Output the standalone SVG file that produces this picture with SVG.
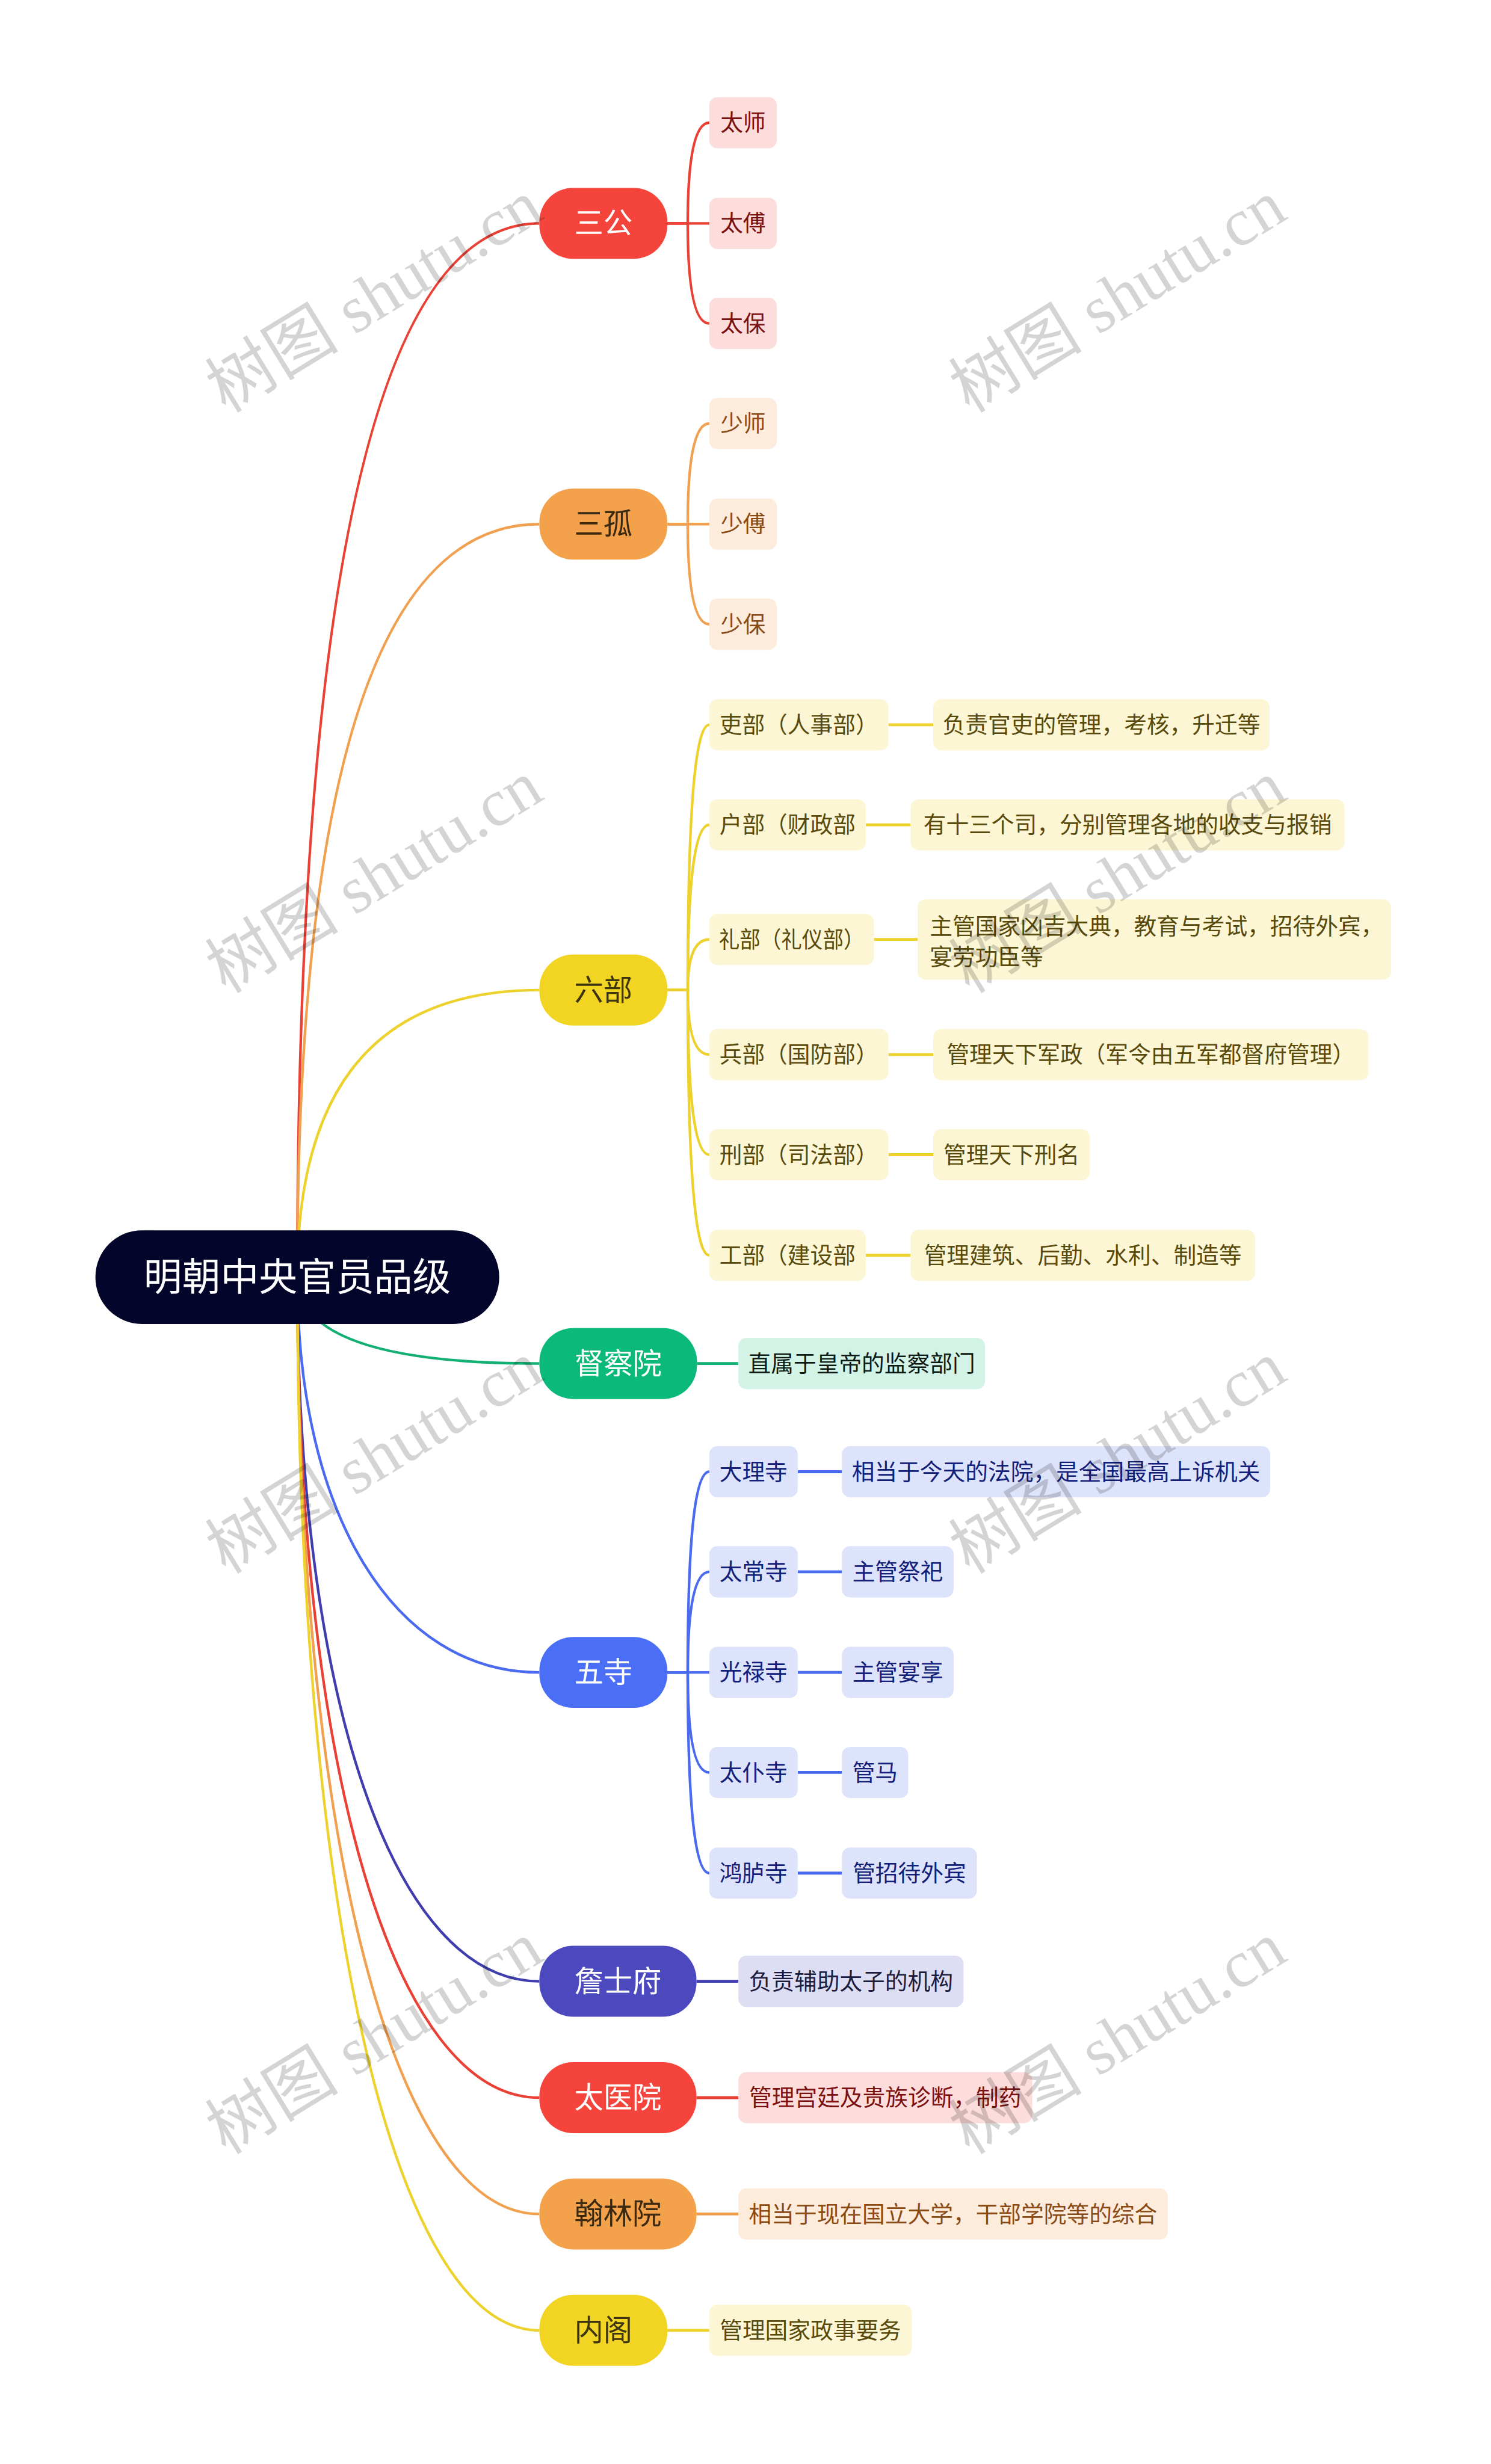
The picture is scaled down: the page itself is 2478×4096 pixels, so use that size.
<svg xmlns="http://www.w3.org/2000/svg" width="2478" height="4096" viewBox="0 0 2478 4096">
<style>
.t{font-family:"Liberation Sans","Noto Sans CJK SC",sans-serif;text-anchor:middle}
.s{font-size:39px}
.m{font-size:50px}
.r{font-size:66px}
.wm{font-family:"Liberation Serif","Noto Sans CJK SC",serif;font-size:115px;fill:#000;fill-opacity:.17;text-anchor:middle}
.c{fill:none;stroke-width:4.5}
.b{fill:none;stroke-width:4.5;stroke-linecap:round}
.l{fill:none;stroke-width:5}
.red{stroke:#EA4137}.ora{stroke:#F0A04F}.yel{stroke:#EDD12C}.grn{stroke:#13AF73}.blu{stroke:#4A6AF0}.ind{stroke:#403EAE}
.pk{fill:#FDDCDC}.pe{fill:#FDEBDB}.ly{fill:#FDF6D4}.mi{fill:#D2F3E5}.lb{fill:#DCE3FB}.lv{fill:#DDDDF3}
.tpk{fill:#7A1010}.tpe{fill:#8A4A14}.tly{fill:#574A0C}.tmi{fill:#0E1A14}.tlb{fill:#13207A}.tlv{fill:#1C1C3E}
</style>
<rect width="2478" height="4096" fill="#FFFFFF"/>
<g transform="scale(0.967)">
<g id="connectors">
<path class="c red" d="M511 2195 Q511 384 927 384"/>
<path class="c ora" d="M511 2195 Q511 901 927 901"/>
<path class="c yel" d="M511 2195 Q511 1702 927 1702"/>
<path class="c grn" d="M511 2195 Q511 2344 927 2344"/>
<path class="c blu" d="M511 2195 C511 2603 677 2875 927 2875"/>
<path class="c ind" d="M511 2195 C511 2922 677 3406 927 3406"/>
<path class="c red" d="M511 2195 C511 3042 677 3606 927 3606"/>
<path class="c ora" d="M511 2195 C511 3162 677 3806 927 3806"/>
<path class="c yel" d="M511 2195 C511 3282 677 4006 927 4006"/>
<path class="b red" d="M1147 384 H1182 Q1182 211 1219 211"/>
<path class="b red" d="M1147 384 H1219"/>
<path class="b red" d="M1147 384 H1182 Q1182 556 1219 556"/>
<path class="b ora" d="M1147 901 H1182 Q1182 728 1219 728"/>
<path class="b ora" d="M1147 901 H1219"/>
<path class="b ora" d="M1147 901 H1182 Q1182 1073 1219 1073"/>
<path class="b yel" d="M1147 1702 H1182 Q1182 1246 1219 1246"/>
<path class="b yel" d="M1147 1702 H1182 Q1182 1418 1219 1418"/>
<path class="b yel" d="M1147 1702 H1182 Q1182 1615 1219 1615"/>
<path class="b yel" d="M1147 1702 H1182 Q1182 1813 1219 1813"/>
<path class="b yel" d="M1147 1702 H1182 Q1182 1985 1219 1985"/>
<path class="b yel" d="M1147 1702 H1182 Q1182 2158 1219 2158"/>
<path class="b blu" d="M1147 2875 H1182 Q1182 2530 1219 2530"/>
<path class="b blu" d="M1147 2875 H1182 Q1182 2702 1219 2702"/>
<path class="b blu" d="M1147 2875 H1219"/>
<path class="b blu" d="M1147 2875 H1182 Q1182 3047 1219 3047"/>
<path class="b blu" d="M1147 2875 H1182 Q1182 3220 1219 3220"/>
<path class="l yel" d="M1527 1246 H1604"/>
<path class="l yel" d="M1488 1418 H1565"/>
<path class="l yel" d="M1502 1615 H1577"/>
<path class="l yel" d="M1527 1813 H1604"/>
<path class="l yel" d="M1527 1985 H1604"/>
<path class="l yel" d="M1488 2158 H1565"/>
<path class="l grn" d="M1198 2344 H1269"/>
<path class="l blu" d="M1371 2530 H1447"/>
<path class="l blu" d="M1371 2702 H1447"/>
<path class="l blu" d="M1371 2875 H1447"/>
<path class="l blu" d="M1371 3047 H1447"/>
<path class="l blu" d="M1371 3220 H1447"/>
<path class="l ind" d="M1197 3406 H1269"/>
<path class="l red" d="M1197 3606 H1269"/>
<path class="l ora" d="M1197 3806 H1269"/>
<path class="l yel" d="M1147 4006 H1219"/>
</g>
<g id="root"><rect x="164" y="2115" width="694" height="161" rx="80" fill="#03052A"/><text class="t r" x="511" y="2218" fill="#FFFFFF">明朝中央官员品级</text></g>
<g id="n-sangong"><rect x="927" y="323" width="220" height="122" rx="58" fill="#F5443B"/><text class="t m" x="1037" y="401.5" fill="#FFFFFF">三公</text></g>
<g id="n-sangu"><rect x="927" y="840" width="220" height="122" rx="58" fill="#F4A14C"/><text class="t m" x="1037" y="918.5" fill="#3A2A12">三孤</text></g>
<g id="n-liubu"><rect x="927" y="1641" width="220" height="122" rx="58" fill="#F2D423"/><text class="t m" x="1037" y="1719.5" fill="#3D3510">六部</text></g>
<g id="n-duchayuan"><rect x="927" y="2283" width="271" height="122" rx="58" fill="#0BB97A"/><text class="t m" x="1062.5" y="2361.5" fill="#FFFFFF">督察院</text></g>
<g id="n-wusi"><rect x="927" y="2814" width="220" height="122" rx="58" fill="#4A6EF6"/><text class="t m" x="1037" y="2892.5" fill="#FFFFFF">五寺</text></g>
<g id="n-zhanshifu"><rect x="927" y="3345" width="270" height="122" rx="58" fill="#4B49BD"/><text class="t m" x="1062" y="3423.5" fill="#FFFFFF">詹士府</text></g>
<g id="n-taiyiyuan"><rect x="927" y="3545" width="270" height="122" rx="58" fill="#F5443B"/><text class="t m" x="1062" y="3623.5" fill="#FFFFFF">太医院</text></g>
<g id="n-hanlinyuan"><rect x="927" y="3745" width="270" height="122" rx="58" fill="#F4A14C"/><text class="t m" x="1062" y="3823.5" fill="#3A2A12">翰林院</text></g>
<g id="n-neige"><rect x="927" y="3945" width="220" height="122" rx="58" fill="#F2D423"/><text class="t m" x="1037" y="4023.5" fill="#3D3510">内阁</text></g>
<g id="n-taishi"><rect class="pk" x="1219" y="167" width="116" height="88" rx="14"/><text class="t s tpk" x="1277" y="224.6">太师</text></g>
<g id="n-taifu"><rect class="pk" x="1219" y="340" width="116" height="88" rx="14"/><text class="t s tpk" x="1277" y="397.6">太傅</text></g>
<g id="n-taibao"><rect class="pk" x="1219" y="512" width="116" height="88" rx="14"/><text class="t s tpk" x="1277" y="569.6">太保</text></g>
<g id="n-shaoshi"><rect class="pe" x="1219" y="684" width="116" height="88" rx="14"/><text class="t s tpe" x="1277" y="741.6">少师</text></g>
<g id="n-shaofu"><rect class="pe" x="1219" y="857" width="116" height="88" rx="14"/><text class="t s tpe" x="1277" y="914.6">少傅</text></g>
<g id="n-shaobao"><rect class="pe" x="1219" y="1029" width="116" height="88" rx="14"/><text class="t s tpe" x="1277" y="1086.6">少保</text></g>
<g id="n-libu1"><rect class="ly" x="1219" y="1202" width="308" height="88" rx="14"/><text class="t s tly" x="1373" y="1259.6">吏部（人事部）</text></g>
<g id="d-libu1"><rect class="ly" x="1604" y="1202" width="578" height="88" rx="14"/><text class="t s tly" x="1893" y="1259.6">负责官吏的管理，考核，升迁等</text></g>
<g id="n-hubu"><rect class="ly" x="1219" y="1374" width="269" height="88" rx="14"/><text class="t s tly" x="1353.5" y="1431.6">户部（财政部</text></g>
<g id="d-hubu"><rect class="ly" x="1565" y="1374" width="746" height="88" rx="14"/><text class="t s tly" x="1938" y="1431.6">有十三个司，分别管理各地的收支与报销</text></g>
<g id="n-libu2"><rect class="ly" x="1219" y="1571" width="283" height="88" rx="14"/><text class="t s tly" x="1360.5" y="1628.6" textLength="250" lengthAdjust="spacingAndGlyphs">礼部（礼仪部）</text></g>
<g id="d-libu2"><rect class="ly" x="1577" y="1546" width="814" height="138" rx="14"/><text class="t s tly" x="1598" y="1605.6" style="text-anchor:start">主管国家凶吉大典，教育与考试，招待外宾，</text><text class="t s tly" x="1598" y="1658.6" style="text-anchor:start">宴劳功臣等</text></g>
<g id="n-bingbu"><rect class="ly" x="1219" y="1769" width="308" height="88" rx="14"/><text class="t s tly" x="1373" y="1826.6">兵部（国防部）</text></g>
<g id="d-bingbu"><rect class="ly" x="1604" y="1769" width="748" height="88" rx="14"/><text class="t s tly" x="1978" y="1826.6">管理天下军政（军令由五军都督府管理）</text></g>
<g id="n-xingbu"><rect class="ly" x="1219" y="1941" width="308" height="88" rx="14"/><text class="t s tly" x="1373" y="1998.6">刑部（司法部）</text></g>
<g id="d-xingbu"><rect class="ly" x="1604" y="1941" width="269" height="88" rx="14"/><text class="t s tly" x="1738.5" y="1998.6">管理天下刑名</text></g>
<g id="n-gongbu"><rect class="ly" x="1219" y="2114" width="269" height="88" rx="14"/><text class="t s tly" x="1353.5" y="2171.6">工部（建设部</text></g>
<g id="d-gongbu"><rect class="ly" x="1565" y="2114" width="592" height="88" rx="14"/><text class="t s tly" x="1861" y="2171.6">管理建筑、后勤、水利、制造等</text></g>
<g id="d-duchayuan"><rect class="mi" x="1269" y="2300" width="424" height="88" rx="14"/><text class="t s tmi" x="1481" y="2357.6">直属于皇帝的监察部门</text></g>
<g id="n-dalisi"><rect class="lb" x="1219" y="2486" width="152" height="88" rx="14"/><text class="t s tlb" x="1295" y="2543.6">大理寺</text></g>
<g id="d-dalisi"><rect class="lb" x="1447" y="2486" width="736" height="88" rx="14"/><text class="t s tlb" x="1815" y="2543.6">相当于今天的法院，是全国最高上诉机关</text></g>
<g id="n-taichangsi"><rect class="lb" x="1219" y="2658" width="152" height="88" rx="14"/><text class="t s tlb" x="1295" y="2715.6">太常寺</text></g>
<g id="d-taichangsi"><rect class="lb" x="1447" y="2658" width="192" height="88" rx="14"/><text class="t s tlb" x="1543" y="2715.6">主管祭祀</text></g>
<g id="n-guanglusi"><rect class="lb" x="1219" y="2831" width="152" height="88" rx="14"/><text class="t s tlb" x="1295" y="2888.6">光禄寺</text></g>
<g id="d-guanglusi"><rect class="lb" x="1447" y="2831" width="192" height="88" rx="14"/><text class="t s tlb" x="1543" y="2888.6">主管宴享</text></g>
<g id="n-taipusi"><rect class="lb" x="1219" y="3003" width="152" height="88" rx="14"/><text class="t s tlb" x="1295" y="3060.6">太仆寺</text></g>
<g id="d-taipusi"><rect class="lb" x="1447" y="3003" width="114" height="88" rx="14"/><text class="t s tlb" x="1504" y="3060.6">管马</text></g>
<g id="n-honglusi"><rect class="lb" x="1219" y="3176" width="152" height="88" rx="14"/><text class="t s tlb" x="1295" y="3233.6">鸿胪寺</text></g>
<g id="d-honglusi"><rect class="lb" x="1447" y="3176" width="232" height="88" rx="14"/><text class="t s tlb" x="1563" y="3233.6">管招待外宾</text></g>
<g id="d-zhanshifu"><rect class="lv" x="1269" y="3362" width="387" height="88" rx="14"/><text class="t s tlv" x="1462.5" y="3419.6">负责辅助太子的机构</text></g>
<g id="d-taiyiyuan"><rect class="pk" x="1269" y="3562" width="505" height="88" rx="14"/><text class="t s tpk" x="1521.5" y="3619.6">管理宫廷及贵族诊断，制药</text></g>
<g id="d-hanlinyuan"><rect class="pe" x="1269" y="3762" width="738" height="88" rx="14"/><text class="t s tpe" x="1638" y="3819.6">相当于现在国立大学，干部学院等的综合</text></g>
<g id="d-neige"><rect class="ly" x="1219" y="3962" width="348" height="88" rx="14"/><text class="t s tly" x="1393" y="4019.6">管理国家政事要务</text></g>
<g id="watermarks">
<text class="wm" x="645" y="548" transform="rotate(-31.5 645 513)">树图 shutu.cn</text>
<text class="wm" x="1923" y="548" transform="rotate(-31.5 1923 513)">树图 shutu.cn</text>
<text class="wm" x="645" y="1546" transform="rotate(-31.5 645 1511)">树图 shutu.cn</text>
<text class="wm" x="1923" y="1546" transform="rotate(-31.5 1923 1511)">树图 shutu.cn</text>
<text class="wm" x="645" y="2544" transform="rotate(-31.5 645 2509)">树图 shutu.cn</text>
<text class="wm" x="1923" y="2544" transform="rotate(-31.5 1923 2509)">树图 shutu.cn</text>
<text class="wm" x="645" y="3542" transform="rotate(-31.5 645 3507)">树图 shutu.cn</text>
<text class="wm" x="1923" y="3542" transform="rotate(-31.5 1923 3507)">树图 shutu.cn</text>
</g>
</g>
</svg>
